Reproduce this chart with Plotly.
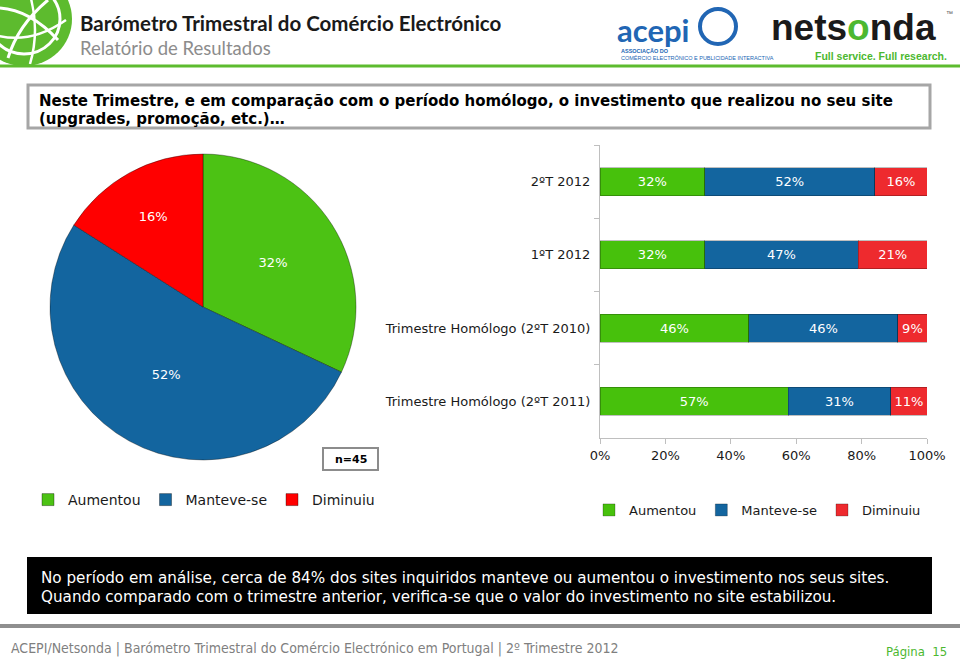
import plotly.graph_objects as go

W, H = 960, 662

# ---------------- data ----------------
categories = ["Aumentou", "Manteve-se", "Diminuiu"]
pie_values = [32, 52, 16]

periods = ["2ºT 2012", "1ºT 2012", "Trimestre Homólogo (2ºT 2010)", "Trimestre Homólogo (2ºT 2011)"]
aumentou = [32, 32, 46, 57]
manteve = [52, 47, 46, 31]
diminuiu = [16, 21, 9, 11]

x_ticks = [0, 20, 40, 60, 80, 100]
x_tick_labels = ["0%", "20%", "40%", "60%", "80%", "100%"]

pie_colors = ["#4CC214", "#13659F", "#FF0000"]
bar_colors = ["#47C10C", "#13659F", "#EE2A2E"]

FONT = "DejaVu Sans"


def X(p):
    return p / W


def Y(p):
    return 1 - p / H


fig = go.Figure()

# ---------------- pie ----------------
fig.add_trace(go.Pie(
    labels=categories,
    values=pie_values,
    sort=False,
    direction="clockwise",
    rotation=0,
    marker=dict(colors=pie_colors, line=dict(color="rgba(0,0,0,0.35)", width=1)),
    texttemplate="%{value}%",
    textposition="inside",
    insidetextorientation="horizontal",
    textfont=dict(color="white", size=13, family=FONT),
    domain=dict(x=[X(50), X(356)], y=[Y(460), Y(154)]),
    showlegend=True,
    legend="legend",
    hoverinfo="skip",
))

# ---------------- stacked bars ----------------
for name, vals, col in zip(categories, [aumentou, manteve, diminuiu], bar_colors):
    fig.add_trace(go.Bar(
        name=name,
        y=periods,
        x=vals,
        orientation="h",
        marker=dict(color=col, line=dict(color="rgba(0,0,0,0.25)", width=1)),
        text=[f"{v}%" for v in vals],
        texttemplate="%{text}",
        textposition="inside",
        insidetextanchor="middle",
        textfont=dict(color="white", size=13, family=FONT),
        legend="legend2",
        hoverinfo="skip",
    ))

fig.update_layout(
    width=W, height=H,
    margin=dict(l=0, r=0, t=0, b=0, pad=0, autoexpand=False),
    paper_bgcolor="white",
    plot_bgcolor="white",
    barmode="stack",
    barnorm="percent",
    bargap=0.62,
    font=dict(family=FONT, color="#1a1a1a"),
    xaxis=dict(
        domain=[X(600), X(927)],
        range=[0, 100],
        tickvals=x_ticks,
        ticktext=x_tick_labels,
        showgrid=False,
        zeroline=False,
        showline=True,
        linecolor="#BFBFBF",
        linewidth=1,
        ticks="outside",
        tickcolor="#BFBFBF",
        ticklen=5,
        tickfont=dict(size=13, family=FONT, color="#1a1a1a"),
        fixedrange=True,
    ),
    yaxis=dict(
        domain=[Y(438), Y(145)],
        categoryorder="array",
        categoryarray=periods,
        autorange="reversed",
        showgrid=False,
        zeroline=False,
        showline=True,
        linecolor="#BFBFBF",
        linewidth=1,
        ticks="outside",
        tickson="boundaries",
        tickcolor="#BFBFBF",
        ticklen=5,
        ticklabelstandoff=6,
        tickfont=dict(size=13, family=FONT, color="#1a1a1a"),
        fixedrange=True,
    ),
    legend=dict(
        orientation="h", x=X(28), y=Y(500), xanchor="left", yanchor="middle",
        font=dict(size=14, family=FONT, color="#1a1a1a"),
        bgcolor="rgba(0,0,0,0)", traceorder="normal", itemwidth=30,
    ),
    legend2=dict(
        orientation="h", x=X(589), y=Y(510), xanchor="left", yanchor="middle",
        font=dict(size=13, family=FONT, color="#1a1a1a"),
        bgcolor="rgba(0,0,0,0)", traceorder="normal", itemwidth=30,
    ),
)

shapes = []
annotations = []


def rect(x0, y0, x1, y1, fill=None, line_color=None, lw=0, layer="below"):
    shapes.append(dict(
        type="rect", xref="paper", yref="paper",
        x0=X(x0), x1=X(x1), y0=Y(y1), y1=Y(y0),
        fillcolor=fill if fill else "rgba(0,0,0,0)",
        line=dict(color=line_color if line_color else "rgba(0,0,0,0)", width=lw),
        layer=layer,
    ))


def hline(x0, x1, y, color, lw):
    shapes.append(dict(type="line", xref="paper", yref="paper",
                       x0=X(x0), x1=X(x1), y0=Y(y), y1=Y(y),
                       line=dict(color=color, width=lw)))


def circle(x0, y0, x1, y1, fill=None, line_color=None, lw=0):
    shapes.append(dict(
        type="circle", xref="paper", yref="paper",
        x0=X(x0), x1=X(x1), y0=Y(y1), y1=Y(y0),
        fillcolor=fill if fill else "rgba(0,0,0,0)",
        line=dict(color=line_color if line_color else "rgba(0,0,0,0)", width=lw),
    ))


def curve(pts, color, lw):
    (ax, ay), (cx, cy), (bx, by) = pts
    path = f"M {X(ax)} {Y(ay)} Q {X(cx)} {Y(cy)} {X(bx)} {Y(by)}"
    shapes.append(dict(type="path", xref="paper", yref="paper", path=path,
                       line=dict(color=color, width=lw)))


def text(x, y, s, size, color="#1a1a1a", family=FONT, xanchor="left", weight="normal"):
    annotations.append(dict(
        xref="paper", yref="paper", x=X(x), y=Y(y), text=s, showarrow=False,
        xanchor=xanchor, yanchor="middle", align="left", borderpad=0,
        font=dict(size=size, color=color, family=family, weight=weight),
    ))


# ---------------- header ----------------
circle(-24, -28, 72, 66, fill="#5DBB2E")
circle(-12, -16, 60, 54, line_color="white", lw=3)
curve([(0, 8), (30, 10), (58, 40)], "white", 3)
curve([(8, 58), (18, 25), (48, 0)], "white", 3)
curve([(-5, 35), (30, 45), (66, 20)], "white", 2.5)
curve([(30, -5), (40, 30), (30, 64)], "white", 2.5)

text(79, 23, "Barómetro Trimestral do Comércio Electrónico", 20.5, "#1a1a1a", "Lato", weight="bold")
text(79, 47.5, "Relatório de Resultados", 18.5, "#8C8C8C", "Lato")

# acepi logo
text(616, 30, "acepi", 31, "#2166B4", "Lato", weight="bold")
circle(700, 9, 736, 44, line_color="#2166B4", lw=4)
text(620, 51, "ASSOCIAÇÃO DO", 5.5, "#2166B4", "Liberation Sans", weight="bold")
text(620, 57.5, "COMÉRCIO ELECTRÓNICO E PUBLICIDADE INTERACTIVA", 5.5, "#2166B4", "Liberation Sans")

# netsonda logo
text(770, 27, "nets<span style='color:#4CB830'>o</span>nda", 37, "#1a1a1a", "Liberation Sans", weight="bold")
text(954, 13, "™", 7, "#555555", "Liberation Sans", xanchor="right")
text(948, 56, "Full service. Full research.", 10.5, "#4CB830", "Liberation Sans", xanchor="right", weight="bold")

hline(0, 960, 66, "#5DBB2E", 3)

# ---------------- question box ----------------
rect(28, 85, 930, 128, fill="white", line_color="#A6A6A6", lw=3)
text(38, 101, "Neste Trimestre, e em comparação com o período homólogo, o investimento que realizou no seu site",
     15, "#000000", FONT, weight="bold")
text(38, 119, "(upgrades, promoção, etc.)…", 15, "#000000", FONT, weight="bold")

# ---------------- n=45 ----------------
rect(323, 448, 378, 470, fill="white", line_color="#8C8C8C", lw=2)
text(350.5, 459, "n=45", 11, "#000000", FONT, xanchor="center", weight="bold")

# ---------------- conclusion box ----------------
rect(27, 557, 932, 614, fill="#000000")
text(40, 578, "No período em análise, cerca de 84% dos sites inquiridos manteve ou aumentou o investimento nos seus sites.",
     15.2, "white", FONT)
text(40, 597, "Quando comparado com o trimestre anterior, verifica-se que o valor do investimento no site estabilizou.",
     15.2, "white", FONT)

# ---------------- footer ----------------
hline(0, 960, 626, "#8F8F8F", 4)
text(10, 648, "ACEPI/Netsonda | Barómetro Trimestral do Comércio Electrónico em Portugal | 2º Trimestre 2012",
     14, "#7F7F7F", "DejaVu Sans Condensed")
text(948, 651, "Página  15", 13, "#4CB830", "DejaVu Sans Condensed", xanchor="right")

fig.update_layout(shapes=shapes, annotations=annotations)

fig.write_html("out.html", config={"displayModeBar": False},
               post_script="document.body.style.margin='0';")
